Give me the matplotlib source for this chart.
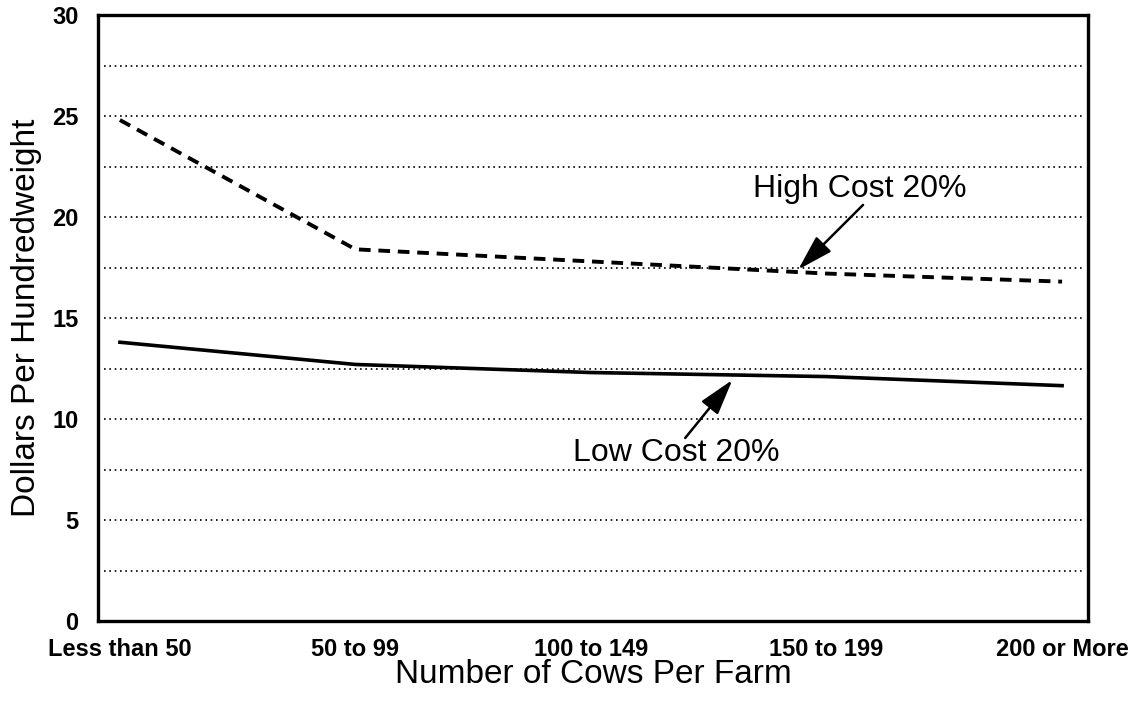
import matplotlib
matplotlib.use("Agg")
import matplotlib.pyplot as plt
import numpy as np

# farm size classes and cost per hundredweight
categories = ["Less than 50", "50 to 99", "100 to 149", "150 to 199", "200 or More"]
high_cost = [24.8, 18.4, 17.8, 17.2, 16.8]
low_cost = [13.8, 12.7, 12.3, 12.1, 11.65]
y_ticks = [0, 5, 10, 15, 20, 25, 30]
grid_levels = [2.5, 5, 7.5, 10, 12.5, 15, 17.5, 20, 22.5, 25, 27.5]

plt.rcParams['font.family'] = ['Liberation Sans', 'DejaVu Sans']

fig = plt.figure(figsize=(11.36, 7.04), dpi=100)
ax = fig.add_axes([98 / 1136, 1 - 621 / 704, (1088 - 98) / 1136, (621 - 15) / 704])

x = np.arange(len(categories))

# dotted reference lines
for g in grid_levels:
    ax.axhline(g, xmin=0.006, xmax=0.997, color="black", linestyle=(0, (1, 2.2)),
               linewidth=1.2, zorder=1)

ax.plot(x, high_cost, color="black", linewidth=2.8, linestyle=(0, (3.0, 2.0)), zorder=3)
ax.plot(x, low_cost, color="black", linewidth=2.6, linestyle="-", zorder=3)

ax.set_xlim(-0.093, 4.11)
ax.set_ylim(0, 30)
ax.set_yticks(y_ticks)
ax.set_xticks(x)
ax.set_xticklabels(categories)
ax.tick_params(axis="both", length=0, labelsize=17)
ax.tick_params(axis="y", pad=14)
ax.tick_params(axis="x", pad=12)
for lbl in ax.get_xticklabels() + ax.get_yticklabels():
    lbl.set_fontweight("bold")

for side in ["top", "bottom", "left", "right"]:
    ax.spines[side].set_linewidth(2.4)
    ax.spines[side].set_color("black")

ax.set_xlabel("Number of Cows Per Farm", fontsize=24, labelpad=-1)
ax.set_ylabel("Dollars Per Hundredweight", fontsize=24, labelpad=7)

arrow = dict(arrowstyle="-|>,head_length=2.2,head_width=0.65", color="black", linewidth=1.8,
             shrinkA=0, shrinkB=0)
ax.annotate("", xy=(2.88, 17.4), xytext=(3.155, 20.6), arrowprops=arrow)
ax.text(3.14, 21.4, "High Cost 20%", fontsize=23, ha="center", va="center")
ax.annotate("", xy=(2.6, 11.93), xytext=(2.4, 9.06), arrowprops=arrow)
ax.text(2.36, 8.3, "Low Cost 20%", fontsize=23, ha="center", va="center")

fig.savefig("out.png", dpi=100)
